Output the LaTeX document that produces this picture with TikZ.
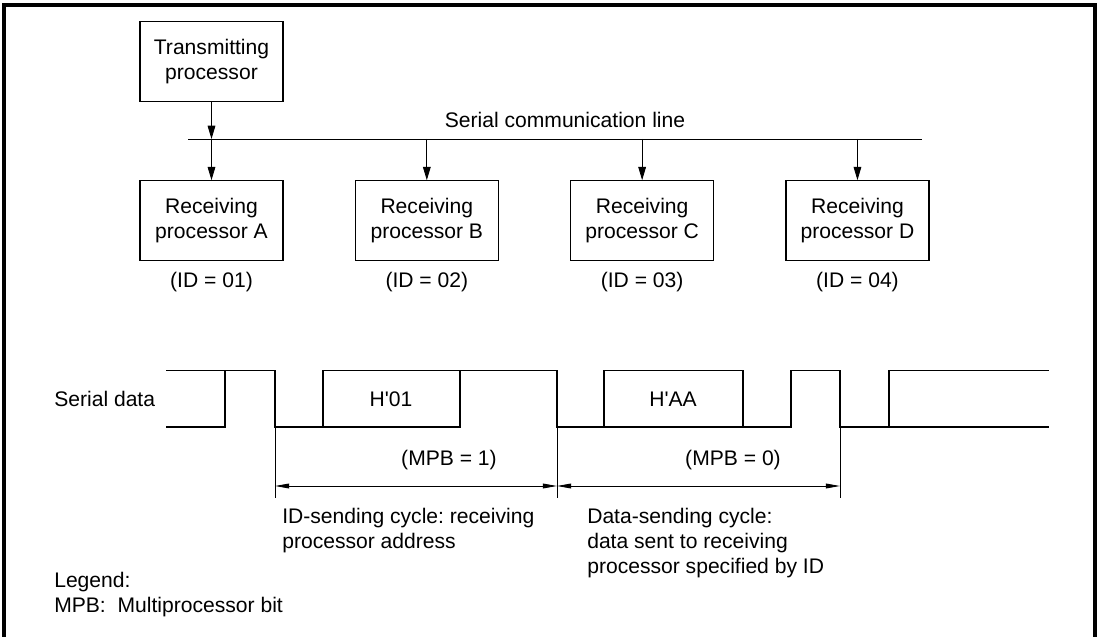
\documentclass[tikz,border=0pt]{standalone}
\usepackage{fontspec}
\setmainfont{Liberation Sans}
\usetikzlibrary{arrows.meta, positioning}
\frenchspacing

\begin{document}
\begin{tikzpicture}[
    x=0.025cm, y=-0.025cm,
    node distance=1.95cm and 1.775cm,
    font=\fontsize{15}{17.8}\selectfont,
    box/.style={draw, line width=0.9pt, minimum width=3.575cm, minimum height=2cm, align=center, inner sep=0pt},
    txt/.style={inner sep=0pt, align=left},
    ar/.style={-{Triangle[length=9.5pt, width=5.5pt]}, line width=0.6pt},
    dim/.style={{Triangle[length=10pt, width=3.4pt]}-{Triangle[length=10pt, width=3.4pt]}, line width=0.6pt},
    wave/.style={line width=0.9pt},
    frame/.style={line width=2.2pt}
]
\useasboundingbox (0,0) rectangle (1100,637);
% outer frame
\draw[frame] (4,637) -- (4,5) -- (1095,5) -- (1095,637);
% processors
\node[box] (tx) at (211.5,61.5) {Transmitting\\processor};
\node[box, below=of tx] (rxA) {Receiving\\processor A};
\node[box, right=of rxA] (rxB) {Receiving\\processor B};
\node[box, right=of rxB] (rxC) {Receiving\\processor C};
\node[box, right=of rxC] (rxD) {Receiving\\processor D};
% IDs
\node[txt, below=0.25cm of rxA] (idA) {(ID = 01)};
\node[txt, below=0.25cm of rxB] (idB) {(ID = 02)};
\node[txt, below=0.25cm of rxC] (idC) {(ID = 03)};
\node[txt, below=0.25cm of rxD] (idD) {(ID = 04)};
% communication line
\coordinate (busL) at (188,139);
\coordinate (busR) at (922,139);
\draw[line width=0.6pt] (busL) -- (busR);
\node[txt] (buslab) at (565,120) {Serial communication line};
\draw[ar] (tx.south) -- (tx.south |- busL);
\draw[ar] (rxA.north |- busL) -- (rxA.north);
\draw[ar] (rxB.north |- busL) -- (rxB.north);
\draw[ar] (rxC.north |- busL) -- (rxC.north);
\draw[ar] (rxD.north |- busL) -- (rxD.north);
% serial data waveform
\node[txt, anchor=west] (sdlab) at (54,399) {Serial data};
\draw[wave] (166,370.5) -- (225,370.5) -- (225,427) -- (166,427);
\draw[wave] (225,370.5) -- (275,370.5) -- (275,427) -- (460,427) -- (460,370.5);
\draw[wave] (323,427) -- (323,370.5) -- (557,370.5) -- (557,427) -- (791,427) -- (791,370.5)
    -- (840,370.5) -- (840,427) -- (1049,427);
\draw[wave] (604,427) -- (604,370.5) -- (743,370.5) -- (743,427);
\draw[wave] (889,427) -- (889,370.5) -- (1049,370.5);
\node[txt] (d01) at (391,399) {H\textquotesingle 01};
\node[txt] (dAA) at (673,399) {H\textquotesingle AA};
\node[txt] (mpb1) at (449,460) {(MPB = 1)};
\node[txt] (mpb0) at (733,460) {(MPB = 0)};
% cycle dimensions
\coordinate (t0) at (275,486);
\coordinate (t1) at (557,486);
\coordinate (t2) at (840,486);
\draw[line width=0.6pt] (275,427) -- (275,498);
\draw[line width=0.6pt] (557,427) -- (557,498);
\draw[line width=0.6pt] (840,427) -- (840,498);
\draw[dim] (t0) -- (t1);
\draw[dim] (t1) -- (t2);
\node[txt, anchor=west] (idcyc) at (282,530.5) {ID-sending cycle: receiving\\processor address};
\node[txt, anchor=west] (dtcyc) at (587,543) {Data-sending cycle:\\data sent to receiving\\processor specified by ID};
% legend
\node[txt, anchor=west] (legend) at (54,595) {Legend:\\MPB:\ \ Multiprocessor bit};
\end{tikzpicture}
\end{document}
